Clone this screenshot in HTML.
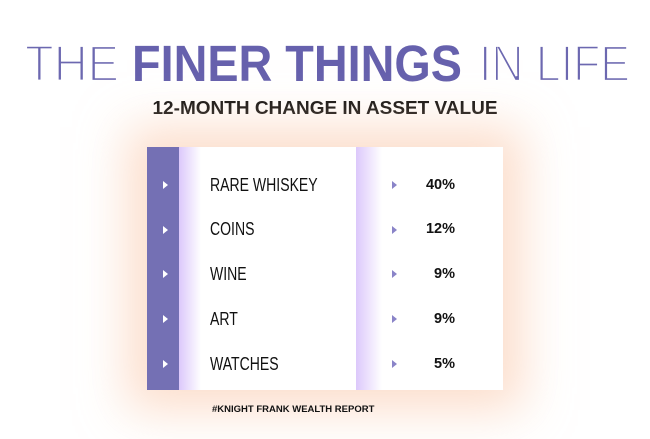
<!DOCTYPE html>
<html><head><meta charset="utf-8"><style>
body{margin:0;width:650px;height:439px;background:#fff;overflow:hidden;position:relative;font-family:"Liberation Sans",sans-serif}
.glow{position:absolute;left:147px;top:147px;width:356px;height:243px;box-shadow:0 0 45px 20px rgba(250,200,170,.6);background:#fff}
.card{position:absolute;left:147px;top:147px;width:356px;height:243px;background:#fff;overflow:hidden}
.stripe{position:absolute;left:0;top:0;width:32px;height:243px;background:#7470b4}
.g1{position:absolute;left:32px;top:0;width:22px;height:243px;background:linear-gradient(90deg,#dcc8fb,#fff)}
.g2{position:absolute;left:209px;top:0;width:26px;height:243px;background:linear-gradient(90deg,#dcc8fb,#fff)}
.lab{position:absolute;left:63px;font-size:18px;color:#111;line-height:20px;transform:scaleX(.78);transform-origin:0 0}
.val{position:absolute;right:48px;font-size:14.5px;font-weight:bold;color:#111;line-height:20px;text-align:right}
.ar{position:absolute;width:0;height:0;border-top:4px solid transparent;border-bottom:4px solid transparent}
.ar.w{left:16px;border-left:5px solid #fff}
.ar.p{left:245px;border-left:5px solid #8a84c8}
.foot{position:absolute;left:212px;top:404px;font-size:9.5px;font-weight:bold;color:#111}
</style></head><body>
<svg width="650" height="130" style="position:absolute;left:0;top:0">
<g font-family="Liberation Sans, sans-serif" font-size="51">
<text x="25" y="81" textLength="94" lengthAdjust="spacingAndGlyphs" fill="#6c68b0" stroke="#fff" stroke-width="2.2">THE</text>
<text x="132" y="81" textLength="330" lengthAdjust="spacingAndGlyphs" fill="#6661ad" font-weight="bold">FINER THINGS</text>
<text x="479" y="81" textLength="151" lengthAdjust="spacingAndGlyphs" fill="#6c68b0" stroke="#fff" stroke-width="2.2">IN LIFE</text>
</g>
<text x="325" y="114" text-anchor="middle" font-family="Liberation Sans, sans-serif" font-weight="bold" font-size="18" textLength="345" lengthAdjust="spacingAndGlyphs" fill="#111">12-MONTH CHANGE IN ASSET VALUE</text>
</svg>
<div class="glow"></div>
<div class="card">
<div class="stripe"></div><div class="g1"></div><div class="g2"></div>
<div class="ar w" style="top:34px"></div><div class="ar p" style="top:34px"></div>
<div class="lab" style="top:28px">RARE WHISKEY</div><div class="val" style="top:28px">40%</div>
<div class="ar w" style="top:79px"></div><div class="ar p" style="top:79px"></div>
<div class="lab" style="top:72px">COINS</div><div class="val" style="top:72px">12%</div>
<div class="ar w" style="top:123px"></div><div class="ar p" style="top:123px"></div>
<div class="lab" style="top:117px">WINE</div><div class="val" style="top:117px">9%</div>
<div class="ar w" style="top:168px"></div><div class="ar p" style="top:168px"></div>
<div class="lab" style="top:162px">ART</div><div class="val" style="top:162px">9%</div>
<div class="ar w" style="top:213px"></div><div class="ar p" style="top:213px"></div>
<div class="lab" style="top:207px">WATCHES</div><div class="val" style="top:207px">5%</div>
</div>
<div class="foot">#KNIGHT FRANK WEALTH REPORT</div>
</body></html>
